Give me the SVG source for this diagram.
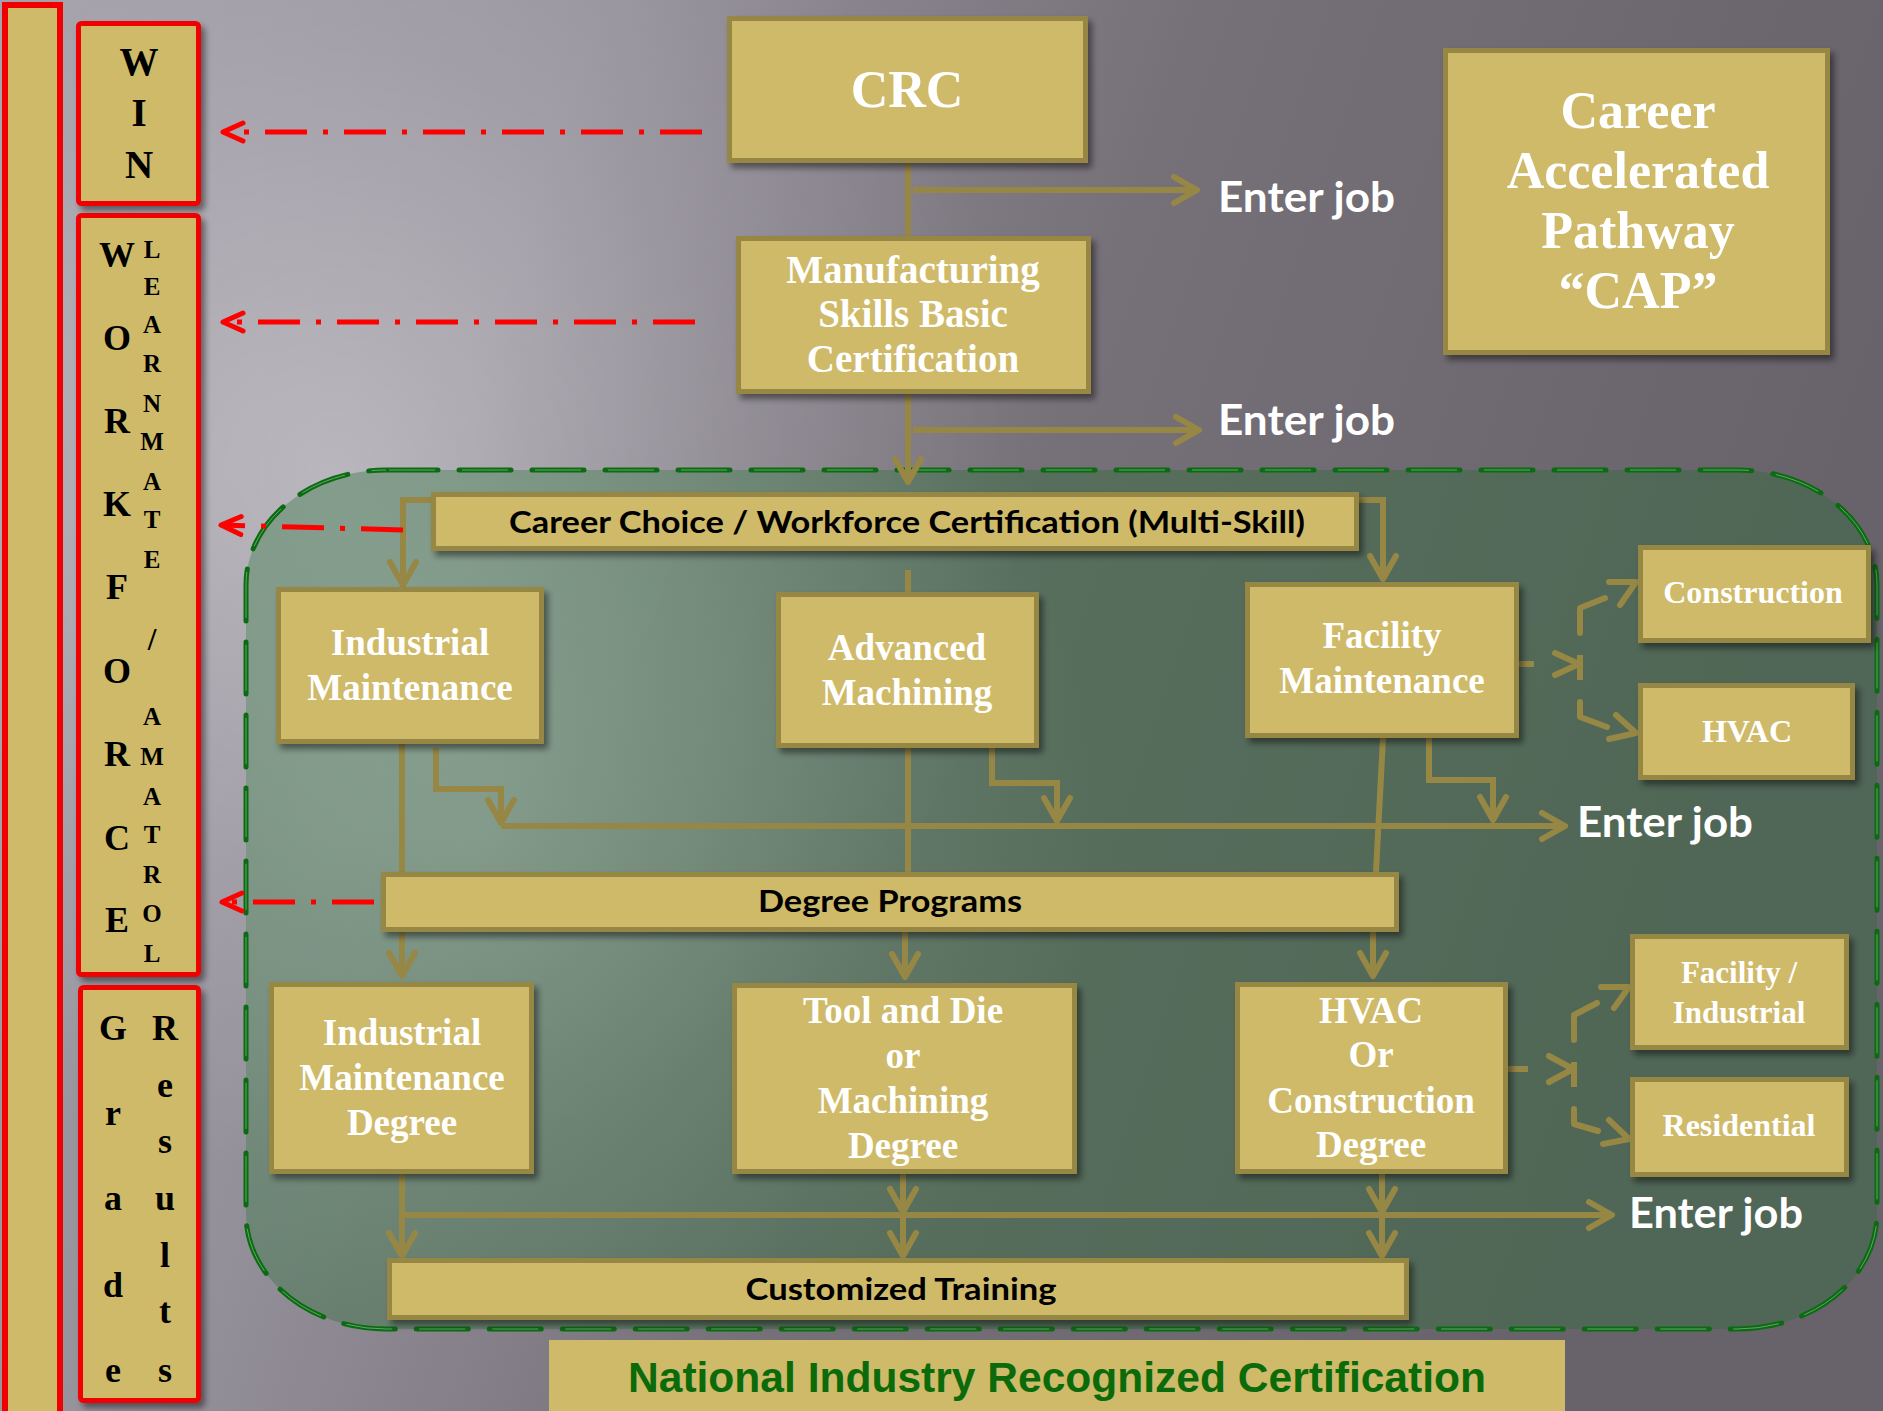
<svg xmlns="http://www.w3.org/2000/svg" width="1883" height="1411" viewBox="0 0 1883 1411">
  <defs>
    <linearGradient id="bg" x1="0" y1="0" x2="1" y2="0.25">
      <stop offset="0" stop-color="#a29ea8"/>
      <stop offset="0.3" stop-color="#96929c"/>
      <stop offset="0.6" stop-color="#767078"/>
      <stop offset="1" stop-color="#68626a"/>
    </linearGradient>
    <radialGradient id="glow" cx="330" cy="470" r="700" gradientUnits="userSpaceOnUse">
      <stop offset="0" stop-color="#ffffff" stop-opacity="0.32"/>
      <stop offset="0.6" stop-color="#ffffff" stop-opacity="0.1"/>
      <stop offset="1" stop-color="#ffffff" stop-opacity="0"/>
    </radialGradient>
    <radialGradient id="regionGlow" cx="480" cy="820" r="620" gradientUnits="userSpaceOnUse">
      <stop offset="0" stop-color="#d8eee0" stop-opacity="0.22"/>
      <stop offset="0.55" stop-color="#d8eee0" stop-opacity="0.1"/>
      <stop offset="1" stop-color="#d8eee0" stop-opacity="0"/>
    </radialGradient>
    <filter id="sh" x="-10%" y="-10%" width="130%" height="140%">
      <feDropShadow dx="4" dy="5" stdDeviation="3" flood-color="#000" flood-opacity="0.45"/>
    </filter>
    <marker id="ah" markerUnits="userSpaceOnUse" orient="auto" viewBox="-30 -18 36 36" markerWidth="36" markerHeight="36" refX="0" refY="0">
      <path d="M-23,-13 L0,0 L-23,13" fill="none" stroke="#978745" stroke-width="6" stroke-linecap="round" stroke-linejoin="round"/>
    </marker>
    <marker id="ahr" markerUnits="userSpaceOnUse" orient="auto" viewBox="-26 -14 30 28" markerWidth="30" markerHeight="28" refX="0" refY="0">
      <path d="M-20,-9 L0,0 L-20,9" fill="none" stroke="#ff0000" stroke-width="5" stroke-linecap="round" stroke-linejoin="round"/>
    </marker>
    <style>
      .box { fill: #cfba69; stroke: #978745; stroke-width: 5; filter: url(#sh); }
      .rbox { fill: #cfba69; stroke: #f00000; stroke-width: 5; filter: url(#sh); }
      .wt { fill: #ffffff; font-family: "Liberation Serif", serif; font-weight: bold; text-anchor: middle; }
      .lt { fill: #000000; font-family: "Liberation Serif", serif; font-weight: bold; text-anchor: middle; }
      .bk { fill: #000000; font-family: Lato, "Liberation Sans", sans-serif; font-weight: bold; text-anchor: middle; font-size: 31px; }
      .job { fill: #ffffff; font-family: Lato, "Liberation Sans", sans-serif; font-weight: bold; font-size: 42px; }
      .ln { fill: none; stroke: #978745; stroke-width: 6; }
      .lnr { fill: none; stroke: #978745; stroke-width: 6; stroke-linecap: round; stroke-linejoin: round; }
      .red { fill: none; stroke: #ff0000; stroke-width: 5; stroke-dasharray: 42 16 5 16; }
    </style>
  </defs>

  <!-- background -->
  <rect x="0" y="0" width="1883" height="1411" fill="url(#bg)"/>
  <rect x="0" y="0" width="1883" height="1411" fill="url(#glow)"/>

  <!-- shaded program region -->
  <g id="region">
    <rect x="246" y="470" width="1631" height="859" rx="140" ry="115" fill="#326d3f" fill-opacity="0.45"/>
    <rect x="246" y="470" width="1631" height="859" rx="140" ry="115" fill="url(#regionGlow)"/>
    <rect x="246" y="470" width="1631" height="859" rx="140" ry="115" fill="none" stroke="#0c6b12" stroke-width="5" stroke-dasharray="52 21" stroke-linecap="round"/>
    <rect x="246" y="470" width="1631" height="859" rx="140" ry="115" fill="none" stroke="#5da864" stroke-width="1" stroke-dasharray="46 27" stroke-dashoffset="-3"/>
  </g>

  <!-- left column -->
  <g id="side-bar">
    <rect x="5" y="5" width="55" height="1420" fill="#cfba69" stroke="#f00000" stroke-width="6"/>
  </g>
  <g id="win">
    <rect class="rbox" x="78.5" y="23.5" width="120" height="180" rx="3"/>
    <text class="lt" x="139" y="75" font-size="39">W</text>
    <text class="lt" x="139" y="126" font-size="39">I</text>
    <text class="lt" x="139" y="178" font-size="39">N</text>
  </g>
  <g id="workforce">
    <rect class="rbox" x="78.5" y="215.5" width="120" height="759" rx="3"/>
    <g font-size="36">
      <text class="lt" x="117" y="267">W</text>
      <text class="lt" x="117" y="350">O</text>
      <text class="lt" x="117" y="433">R</text>
      <text class="lt" x="117" y="516">K</text>
      <text class="lt" x="117" y="599">F</text>
      <text class="lt" x="117" y="683">O</text>
      <text class="lt" x="117" y="766">R</text>
      <text class="lt" x="117" y="850">C</text>
      <text class="lt" x="117" y="932">E</text>
    </g>
    <g font-size="25">
      <text class="lt" x="152" y="258">L</text>
      <text class="lt" x="152" y="295">E</text>
      <text class="lt" x="152" y="333">A</text>
      <text class="lt" x="152" y="372">R</text>
      <text class="lt" x="152" y="412">N</text>
      <text class="lt" x="152" y="450">M</text>
      <text class="lt" x="152" y="490">A</text>
      <text class="lt" x="152" y="528">T</text>
      <text class="lt" x="152" y="568">E</text>
      <text class="lt" x="152" y="650" font-size="31">/</text>
      <text class="lt" x="152" y="725">A</text>
      <text class="lt" x="152" y="765">M</text>
      <text class="lt" x="152" y="805">A</text>
      <text class="lt" x="152" y="843">T</text>
      <text class="lt" x="152" y="883">R</text>
      <text class="lt" x="152" y="922">O</text>
      <text class="lt" x="152" y="962">L</text>
    </g>
  </g>
  <g id="grade-results">
    <rect class="rbox" x="80.5" y="987.5" width="118" height="413" rx="3"/>
    <g font-size="36">
      <text class="lt" x="113" y="1040">G</text>
      <text class="lt" x="113" y="1125">r</text>
      <text class="lt" x="113" y="1210">a</text>
      <text class="lt" x="113" y="1297">d</text>
      <text class="lt" x="113" y="1382">e</text>
      <text class="lt" x="165" y="1040">R</text>
      <text class="lt" x="165" y="1097">e</text>
      <text class="lt" x="165" y="1153">s</text>
      <text class="lt" x="165" y="1210">u</text>
      <text class="lt" x="165" y="1267">l</text>
      <text class="lt" x="165" y="1323">t</text>
      <text class="lt" x="165" y="1382">s</text>
    </g>
  </g>

  <!-- connectors -->
  <g id="connectors">
    <path class="ln" d="M908,163 V236"/>
    <path class="ln" d="M913,190 H1197" marker-end="url(#ah)"/>
    <path class="ln" d="M908,394 V482" marker-end="url(#ah)"/>
    <path class="ln" d="M913,430 H1199" marker-end="url(#ah)"/>
    <path class="ln" d="M431,500 H403 V585" marker-end="url(#ah)"/>
    <path class="ln" d="M1359,500 H1383 V579" marker-end="url(#ah)"/>
    <path class="ln" d="M908,570 V592"/>
    <path class="ln" d="M402,744 V872"/>
    <path class="ln" d="M436,748 V789 H501 V823" marker-end="url(#ah)"/>
    <path class="ln" d="M908,748 V872"/>
    <path class="ln" d="M992,748 V783 H1057 V821" marker-end="url(#ah)"/>
    <path class="ln" d="M1429,738 V780 H1493 V820" marker-end="url(#ah)"/>
    <path class="ln" d="M1383,738 L1376,872"/>
    <path class="ln" d="M501,826 H1565" marker-end="url(#ah)"/>
    <path class="ln" d="M402,932 V976" marker-end="url(#ah)"/>
    <path class="ln" d="M905,932 V977" marker-end="url(#ah)"/>
    <path class="ln" d="M1373,932 V976" marker-end="url(#ah)"/>
    <path class="ln" d="M402,1174 V1256" marker-end="url(#ah)"/>
    <path class="ln" d="M903,1174 V1212" marker-end="url(#ah)"/>
    <path class="ln" d="M903,1215 V1256" marker-end="url(#ah)"/>
    <path class="ln" d="M1382,1174 V1212" marker-end="url(#ah)"/>
    <path class="ln" d="M1382,1215 V1256" marker-end="url(#ah)"/>
    <path class="ln" d="M402,1215 H1612" marker-end="url(#ah)"/>

    <!-- split from Facility Maintenance -->
    <path class="ln" d="M1508,664 H1534"/>
    <path class="lnr" d="M1555,653 L1579,664 L1555,675"/>
    <path class="ln" d="M1580,655 V680"/>
    <path class="lnr" d="M1580,633 V608 L1605,598"/>
    <path class="lnr" d="M1609,582 H1636 L1620,605"/>
    <path class="lnr" d="M1580,702 V717 L1607,727"/>
    <path class="lnr" d="M1616,715 L1636,733 L1609,739"/>

    <!-- split from HVAC / Construction Degree -->
    <path class="ln" d="M1502,1069 H1528"/>
    <path class="lnr" d="M1549,1056 L1573,1069 L1549,1082"/>
    <path class="ln" d="M1574,1062 V1087"/>
    <path class="lnr" d="M1574,1040 V1015 L1597,1003"/>
    <path class="lnr" d="M1601,987 H1629 L1614,1008"/>
    <path class="lnr" d="M1574,1109 V1124 L1598,1131"/>
    <path class="lnr" d="M1609,1120 L1629,1139 L1603,1144"/>

    <!-- red links to the side column -->
    <path class="red" d="M702,132 H223" marker-end="url(#ahr)"/>
    <path class="red" d="M695,322 H223" marker-end="url(#ahr)"/>
    <path class="red" d="M403,530 L221,525" marker-end="url(#ahr)"/>
    <path class="red" d="M374,902 H222" marker-end="url(#ahr)"/>
  </g>

  <!-- nodes -->
  <g id="crc">
    <rect class="box" x="729.5" y="18.5" width="356" height="142"/>
    <text class="wt" x="907" y="107" font-size="52">CRC</text>
  </g>
  <g id="msb">
    <rect class="box" x="738.5" y="238.5" width="350" height="153"/>
    <text class="wt" x="913" y="283" font-size="39">Manufacturing</text>
    <text class="wt" x="913" y="327" font-size="39">Skills Basic</text>
    <text class="wt" x="913" y="372" font-size="39">Certification</text>
  </g>
  <g id="cap">
    <rect class="box" x="1445.5" y="50.5" width="382" height="302"/>
    <text class="wt" x="1638" y="128" font-size="52">Career</text>
    <text class="wt" x="1638" y="188" font-size="52">Accelerated</text>
    <text class="wt" x="1638" y="248" font-size="52">Pathway</text>
    <text class="wt" x="1638" y="308" font-size="52">“CAP”</text>
  </g>
  <g id="career-choice">
    <rect class="box" x="433.5" y="494.5" width="923" height="54"/>
    <text class="bk" x="907" y="533" textLength="796" lengthAdjust="spacingAndGlyphs">Career Choice / Workforce Certification (Multi-Skill)</text>
  </g>
  <g id="industrial-maintenance">
    <rect class="box" x="278.5" y="589.5" width="263" height="152"/>
    <text class="wt" x="410" y="655" font-size="37">Industrial</text>
    <text class="wt" x="410" y="700" font-size="37">Maintenance</text>
  </g>
  <g id="advanced-machining">
    <rect class="box" x="778.5" y="594.5" width="258" height="151"/>
    <text class="wt" x="907" y="660" font-size="37">Advanced</text>
    <text class="wt" x="907" y="705" font-size="37">Machining</text>
  </g>
  <g id="facility-maintenance">
    <rect class="box" x="1247.5" y="584.5" width="269" height="151"/>
    <text class="wt" x="1382" y="648" font-size="37">Facility</text>
    <text class="wt" x="1382" y="693" font-size="37">Maintenance</text>
  </g>
  <g id="construction">
    <rect class="box" x="1640.5" y="547.5" width="228" height="93"/>
    <text class="wt" x="1753" y="603" font-size="32">Construction</text>
  </g>
  <g id="hvac">
    <rect class="box" x="1640.5" y="685.5" width="212" height="92"/>
    <text class="wt" x="1747" y="742" font-size="32">HVAC</text>
  </g>
  <g id="degree-programs">
    <rect class="box" x="383.5" y="874.5" width="1013" height="55"/>
    <text class="bk" x="890" y="912" textLength="264" lengthAdjust="spacingAndGlyphs">Degree Programs</text>
  </g>
  <g id="im-degree">
    <rect class="box" x="271.5" y="984.5" width="260" height="187"/>
    <text class="wt" x="402" y="1045" font-size="37">Industrial</text>
    <text class="wt" x="402" y="1090" font-size="37">Maintenance</text>
    <text class="wt" x="402" y="1135" font-size="37">Degree</text>
  </g>
  <g id="tool-die-degree">
    <rect class="box" x="734.5" y="985.5" width="340" height="186"/>
    <text class="wt" x="903" y="1023" font-size="37">Tool and Die</text>
    <text class="wt" x="903" y="1068" font-size="37">or</text>
    <text class="wt" x="903" y="1113" font-size="37">Machining</text>
    <text class="wt" x="903" y="1158" font-size="37">Degree</text>
  </g>
  <g id="hvac-degree">
    <rect class="box" x="1237.5" y="984.5" width="268" height="187"/>
    <text class="wt" x="1371" y="1023" font-size="37">HVAC</text>
    <text class="wt" x="1371" y="1067" font-size="37">Or</text>
    <text class="wt" x="1371" y="1113" font-size="37">Construction</text>
    <text class="wt" x="1371" y="1157" font-size="37">Degree</text>
  </g>
  <g id="facility-industrial">
    <rect class="box" x="1632.5" y="936.5" width="214" height="111"/>
    <text class="wt" x="1739" y="983" font-size="31">Facility /</text>
    <text class="wt" x="1739" y="1023" font-size="31">Industrial</text>
  </g>
  <g id="residential">
    <rect class="box" x="1632.5" y="1079.5" width="214" height="95"/>
    <text class="wt" x="1739" y="1136" font-size="32">Residential</text>
  </g>
  <g id="customized-training">
    <rect class="box" x="389.5" y="1260.5" width="1017" height="57"/>
    <text class="bk" x="901" y="1300" textLength="311" lengthAdjust="spacingAndGlyphs">Customized Training</text>
  </g>
  <g id="national-certification">
    <rect x="549" y="1340" width="1016" height="80" fill="#cfba69"/>
    <text x="1057" y="1392" font-family="'Liberation Sans', Arial, sans-serif" font-weight="bold" font-size="42" fill="#0b6b0b" text-anchor="middle" textLength="858" lengthAdjust="spacingAndGlyphs">National Industry Recognized Certification</text>
  </g>

  <!-- exit labels -->
  <g id="enter-job-labels">
    <text class="job" x="1218" y="212" textLength="177" lengthAdjust="spacingAndGlyphs">Enter job</text>
    <text class="job" x="1218" y="435" textLength="177" lengthAdjust="spacingAndGlyphs">Enter job</text>
    <text class="job" x="1577" y="837" textLength="176" lengthAdjust="spacingAndGlyphs">Enter job</text>
    <text class="job" x="1629" y="1228" textLength="174" lengthAdjust="spacingAndGlyphs">Enter job</text>
  </g>
</svg>
